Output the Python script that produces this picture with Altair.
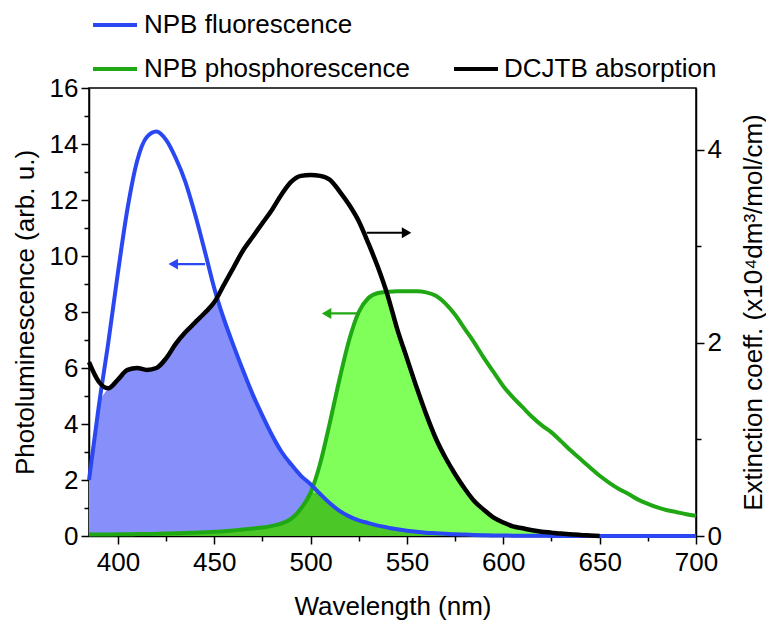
import altair as alt
import numpy as np
import pandas as pd

# ---------------- data ----------------
wavelength = list(range(385, 701, 5))

npb_fluorescence = [
    2.0, 4.6, 6.9, 9.4, 11.7, 13.4, 14.25, 14.45, 14.15, 13.5,
    12.65, 11.5, 10.2, 8.85, 7.75, 6.8, 5.9, 5.05, 4.3, 3.6,
    3.0, 2.55, 2.15, 1.85, 1.5, 1.17, 0.9, 0.7, 0.56, 0.46,
    0.37, 0.3, 0.24, 0.19, 0.15, 0.12, 0.1, 0.08, 0.06, 0.05,
    0.04, 0.03, 0.02, 0.02, 0.01, 0.01, 0.01, 0.01,
    0, 0, 0, 0, 0, 0, 0, 0, 0, 0, 0, 0, 0, 0, 0, 0,
]

npb_phosphorescence = [
    0.05, 0.05, 0.05, 0.06, 0.06, 0.07, 0.07, 0.08, 0.09, 0.1,
    0.11, 0.12, 0.13, 0.15, 0.17, 0.2, 0.23, 0.27, 0.3, 0.36,
    0.45, 0.62, 0.98, 1.55, 2.6, 4.05, 5.6, 7.0, 8.0, 8.5,
    8.68, 8.72, 8.74, 8.74, 8.74, 8.7, 8.58, 8.3, 7.9, 7.4,
    6.9, 6.35, 5.85, 5.35, 4.95, 4.6, 4.25, 3.95, 3.7, 3.38,
    3.05, 2.75, 2.45, 2.15, 1.9, 1.68, 1.5, 1.3, 1.15, 1.02,
    0.92, 0.85, 0.78, 0.72,
]

dcjtb_absorption = [
    1.8, 1.6, 1.53, 1.62, 1.72, 1.74, 1.72, 1.74, 1.84, 1.99,
    2.11, 2.21, 2.31, 2.42, 2.60, 2.78, 2.96, 3.10, 3.24, 3.38,
    3.54, 3.67, 3.73, 3.74, 3.73, 3.69, 3.57, 3.43, 3.26, 3.03,
    2.78, 2.49, 2.14, 1.84, 1.54, 1.26, 1.01, 0.81, 0.64, 0.49,
    0.36, 0.27, 0.19, 0.14, 0.10, 0.08, 0.06, 0.045, 0.035, 0.025,
    0.018, 0.01, 0.005, 0.0,
    None, None, None, None, None, None, None, None, None, None,
]

legend_labels = ["NPB fluorescence", "NPB phosphorescence", "DCJTB absorption"]

# arrows: y (left units), tail x, tip x
arrow_names = ["fluor", "phos", "abs"]
arrow_y = [9.71, 7.95, 10.83]
arrow_tail = [445.2, 525.6, 529.1]
arrow_tip = [426.1, 505.7, 552.4]

LEFT_MAX = 16
RIGHT_MAX = 4.64

# ---------------- colours ----------------
C_BLUE = "#2a48f2"
C_BLUE_FILL = "#878ffa"
C_GREEN = "#1fa814"
C_GREEN_FILL = "#80ff5a"
C_OVERLAP = "#4bc828"
FONT = "Liberation Sans"

W, H = 607, 448

# ---------------- table ----------------
df = pd.DataFrame({
    "wl": wavelength,
    "fluor": npb_fluorescence,
    "phos": npb_phosphorescence,
    "absorb": pd.array(dcjtb_absorption, dtype="Float64").astype(float),
})
abs_left = np.nan_to_num(df["absorb"].to_numpy(), nan=0.0) * LEFT_MAX / RIGHT_MAX
df["bfill"] = np.minimum(df["fluor"].to_numpy(), abs_left)
df["gfill"] = np.minimum(df["phos"].to_numpy(), abs_left)
df["ofill"] = np.minimum(df["bfill"], df["gfill"])

arr = pd.DataFrame({
    "name": arrow_names, "y": arrow_y, "tail": arrow_tail, "tip": arrow_tip,
})
head_shift = np.where(arr["tip"] > arr["tail"], -2.6, 2.6)
arr["head"] = arr["tip"] + head_shift

xscale = alt.Scale(domain=[385, 700], nice=False, zero=False)
xaxis = alt.Axis(
    values=list(range(400, 701, 25)),
    labelExpr="datum.value % 50 == 0 ? datum.label : ''",
    tickSize={"condition": {"test": "datum.value % 50 != 0", "value": 5}, "value": 8},
    labelFlush=False, labelOverlap=False,
    title="Wavelength (nm)", titleY=70, titleBaseline="middle", labelPadding=5,
)
X = alt.X("wl:Q", scale=xscale, axis=xaxis)

yl_scale = alt.Scale(domain=[0, LEFT_MAX], nice=False)
yl_axis = alt.Axis(
    values=list(range(0, 17)),
    labelExpr="datum.value % 2 == 0 ? datum.label : ''",
    tickSize={"condition": {"test": "datum.value % 2 != 0", "value": 5}, "value": 8},
    labelFlush=False, labelOverlap=False,
    title="Photoluminescence (arb. u.)", titleAngle=270, titleX=-64, titleY=H / 2,
    titleAlign="center", titleBaseline="middle", labelPadding=3,
)

def YL(field):
    return alt.Y(f"{field}:Q", scale=yl_scale, axis=yl_axis)

base = alt.Chart(df)

blue_fill = base.mark_area(color=C_BLUE_FILL, opacity=1, interpolate="monotone").encode(x=X, y=YL("bfill"))
green_fill = base.mark_area(color=C_GREEN_FILL, opacity=1, interpolate="monotone").encode(x=X, y=YL("gfill"))
over_fill = base.mark_area(color=C_OVERLAP, opacity=1, interpolate="monotone").encode(x=X, y=YL("ofill"))
green_line = base.mark_line(color=C_GREEN, strokeWidth=4, interpolate="monotone").encode(x=X, y=YL("phos"))
blue_line = base.mark_line(color=C_BLUE, strokeWidth=4, interpolate="monotone").encode(x=X, y=YL("fluor"))

arrow_color = alt.Color(
    "name:N",
    scale=alt.Scale(domain=arrow_names, range=[C_BLUE, C_GREEN, "black"]),
    legend=None,
)
arrow_lines = alt.Chart(arr).mark_rule(strokeWidth=2.2).encode(
    x=alt.X("tail:Q", scale=xscale, axis=xaxis), x2="head:Q",
    y=alt.Y("y:Q", scale=yl_scale, axis=yl_axis), color=arrow_color,
)
arrow_left = alt.Chart(arr).transform_filter("datum.tip < datum.tail").mark_point(
    shape="triangle-left", filled=True, size=120, opacity=1
).encode(
    x=alt.X("head:Q", scale=xscale, axis=xaxis),
    y=alt.Y("y:Q", scale=yl_scale, axis=yl_axis), color=arrow_color,
)
arrow_right = alt.Chart(arr).transform_filter("datum.tip > datum.tail").mark_point(
    shape="triangle-right", filled=True, size=120, opacity=1
).encode(
    x=alt.X("head:Q", scale=xscale, axis=xaxis),
    y=alt.Y("y:Q", scale=yl_scale, axis=yl_axis), color=arrow_color,
)

# legend drawn as text + line swatches above the plot
legend_items = [
    (legend_labels[0], C_BLUE, 4, 48, 55, -63),
    (legend_labels[1], C_GREEN, 4, 48, 55, -19),
    (legend_labels[2], "black", 365, 409, 415, -19),
]
legend_layers = []
for lab, col, x0, x1, tx, yy in legend_items:
    one = pd.DataFrame({"t": [lab]})
    legend_layers.append(
        alt.Chart(one).mark_rule(color=col, strokeWidth=4).encode(
            x=alt.value(x0), x2=alt.value(x1), y=alt.value(yy)
        )
    )
    legend_layers.append(
        alt.Chart(one).mark_text(
            align="left", baseline="middle", font=FONT, fontSize=26, color="black"
        ).encode(x=alt.value(tx), y=alt.value(yy), text="t:N")
    )

left = alt.layer(
    blue_fill, green_fill, over_fill, green_line, blue_line,
    arrow_lines, arrow_left, arrow_right, *legend_layers,
)

yr_axis = alt.Axis(
    orient="right",
    values=[0, 1, 2, 3, 4],
    labelExpr="datum.value % 2 == 0 ? datum.label : ''",
    tickSize={"condition": {"test": "datum.value % 2 != 0", "value": 5}, "value": 8},
    labelFlush=False, labelOverlap=False,
    title="Extinction coeff. (x10\u2074dm\u00b3/mol/cm)", titleAngle=270,
    titleX=57, titleY=H / 2, titleAlign="center", titleBaseline="middle",
    labelPadding=3,
)
right = base.mark_line(color="black", strokeWidth=4.5, interpolate="monotone").encode(
    x=X,
    y=alt.Y("absorb:Q", scale=alt.Scale(domain=[0, RIGHT_MAX], nice=False), axis=yr_axis),
)

chart = alt.layer(left, right).resolve_scale(y="independent").properties(
    width=W, height=H,
    padding={"left": 81, "top": 80, "right": 70, "bottom": 84},
    autosize=alt.AutoSizeParams(type="none"),
).configure_axis(
    domainColor="black", domainWidth=1.5, tickColor="black", tickWidth=1.5,
    labelFont=FONT, labelFontSize=26, labelColor="black",
    titleFont=FONT, titleFontSize=26, titleFontWeight="normal", titleColor="black",
    grid=False,
).configure_view(stroke="black", strokeWidth=1.5)

chart.save("out.html", embed_options={"renderer": "svg", "actions": False})
